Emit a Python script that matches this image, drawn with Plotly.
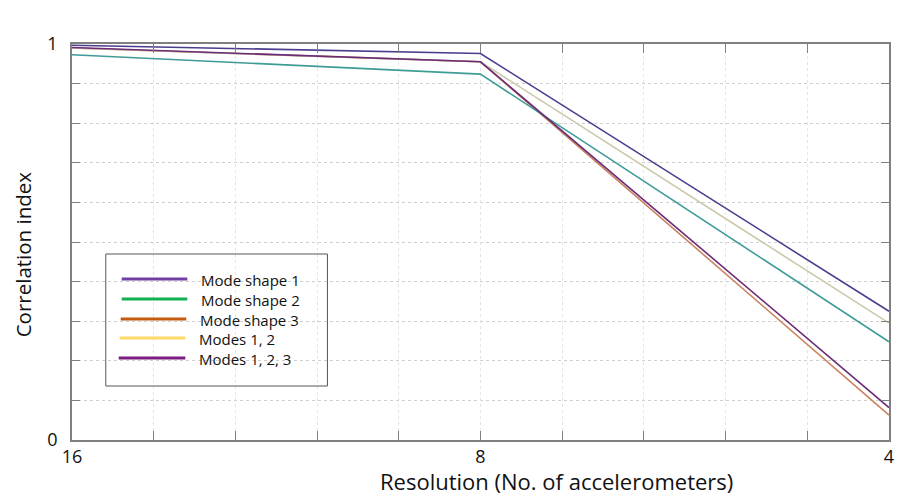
import math
import plotly.graph_objects as go

# ---- data ----
resolution = [16, 8, 4]
series_names = ["Mode shape 1", "Mode shape 2", "Mode shape 3", "Modes 1, 2", "Modes 1, 2, 3"]
mode1 = [0.997, 0.976, 0.325]
mode2 = [0.973, 0.924, 0.248]
mode3 = [0.990, 0.955, 0.063]
modes12 = [0.990, 0.955, 0.295]
modes123 = [0.991, 0.955, 0.082]
x_tick_vals = [16, 8, 4]
x_tick_text = ["16", "8", "4"]
y_tick_vals = [0, 1]
y_tick_text = ["0", "1"]

# ---- styles ----
line_colors = ["#4b3c8e", "#3e9c98", "#c98462", "#cdc8aa", "#6b2c78"]
legend_colors = ["#6f3fa3", "#12b050", "#c55a11", "#ffd966", "#7a1c80"]
series = [mode1, mode2, mode3, modes12, modes123]
draw_order = [2, 3, 1, 0, 4]

fig = go.Figure()
for i in draw_order:
    fig.add_trace(go.Scatter(
        x=resolution, y=series[i], mode="lines", name=series_names[i],
        line=dict(color=line_colors[i], width=1.6), showlegend=False))

W, H = 901, 501
ml, mr, mt, mb = 72, 7, 44, 61
pw, ph = W - ml - mr, H - mt - mb

def px(xp):
    return (xp - ml) / pw

def py(yp):
    return (H - mb - yp) / ph

# manual legend
shapes = [dict(type="rect", xref="paper", yref="paper",
               x0=px(106), x1=px(329), y0=py(386), y1=py(254),
               line=dict(color="#555555", width=1), fillcolor="rgba(0,0,0,0)")]
annotations = []
leg_y = [279, 299, 319, 338, 358]
leg_x0 = [122, 122, 121, 120, 119]
leg_x1 = [188, 188, 187, 186, 186]
for k, name in enumerate(series_names):
    shapes.append(dict(type="line", xref="paper", yref="paper",
                       x0=px(leg_x0[k]), x1=px(leg_x1[k]), y0=py(leg_y[k]), y1=py(leg_y[k]),
                       line=dict(color=legend_colors[k], width=3)))
    annotations.append(dict(xref="paper", yref="paper", x=px(200 - k * 0.6), y=py(leg_y[k] + 1),
                            text=name, showarrow=False, xanchor="left", yanchor="middle",
                            font=dict(family="Open Sans", size=15, color="#111111")))

annotations.append(dict(xref="paper", yref="paper", x=px(559), y=py(481),
                        text="Resolution (No. of accelerometers)", showarrow=False,
                        xanchor="center", yanchor="middle",
                        font=dict(family="Open Sans", size=22, color="#111111")))
annotations.append(dict(xref="paper", yref="paper", x=px(23), y=py(254),
                        text="Correlation index", showarrow=False, textangle=-90,
                        xanchor="center", yanchor="middle",
                        font=dict(family="Open Sans", size=20.5, color="#111111")))

minor_x = [4 * 2 ** (k / 5) for k in range(1, 10) if k != 5]

fig.update_layout(
    width=W, height=H,
    margin=dict(l=ml, r=mr, t=mt, b=mb),
    paper_bgcolor="white", plot_bgcolor="white",
    showlegend=False,
    shapes=shapes, annotations=annotations,
    xaxis=dict(type="log", range=[math.log10(16), math.log10(4)],
               tickmode="array", tickvals=x_tick_vals, ticktext=x_tick_text,
               ticks="inside", ticklen=9, tickcolor="#808080", tickwidth=1,
               showline=True, linecolor="#808080", linewidth=1.5, mirror="ticks",
               showgrid=True, gridcolor="#e4e4e4", griddash="dot", gridwidth=1,
               zeroline=False,
               tickfont=dict(family="Open Sans", size=18, color="#111111"),
               minor=dict(tickmode="array", tickvals=minor_x, ticks="inside", ticklen=9,
                          tickcolor="#808080", showgrid=True, gridcolor="#e4e4e4",
                          griddash="dot", gridwidth=1)),
    yaxis=dict(range=[0, 1], tickmode="array", tickvals=y_tick_vals, ticktext=y_tick_text,
               ticks="inside", ticklen=8, tickcolor="#808080",
               showline=True, linecolor="#808080", linewidth=1.5, mirror="ticks",
               showgrid=False, zeroline=False, ticklabelstandoff=9,
               tickfont=dict(family="Open Sans", size=18, color="#111111"),
               minor=dict(dtick=0.1, tick0=0, ticks="inside", ticklen=8, tickcolor="#808080",
                          showgrid=True, gridcolor="#cfcfcf", griddash="dot", gridwidth=1)),
)

fig.write_html("out.html")
